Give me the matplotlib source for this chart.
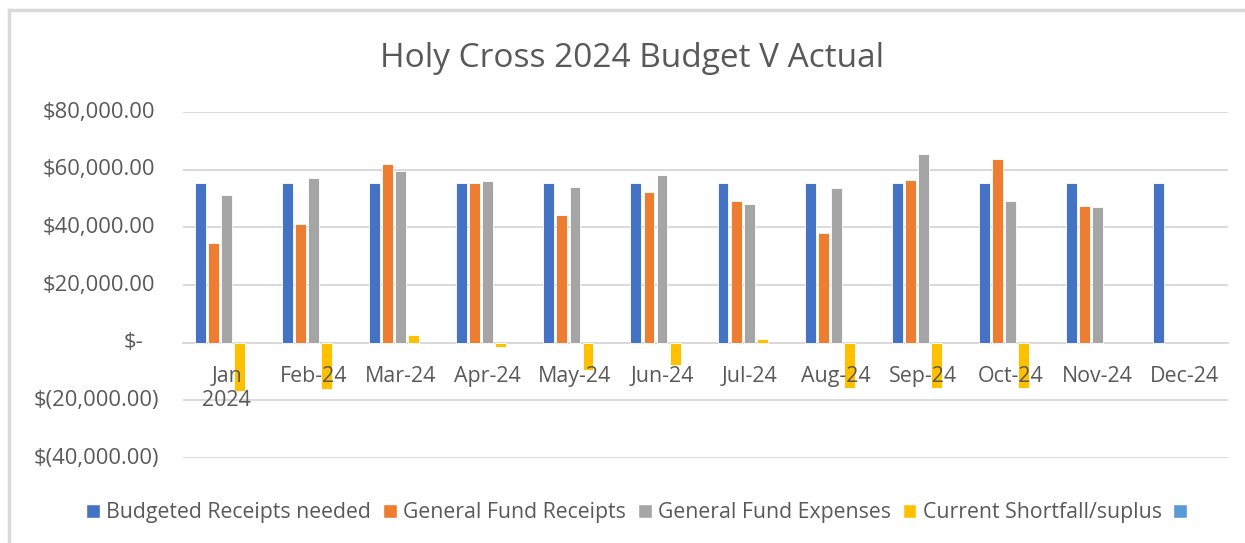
import numpy as np
import matplotlib.pyplot as plt
from matplotlib.patches import Patch
from matplotlib.lines import Line2D

# data
months = ['Jan\n2024', 'Feb-24', 'Mar-24', 'Apr-24', 'May-24', 'Jun-24',
          'Jul-24', 'Aug-24', 'Sep-24', 'Oct-24', 'Nov-24', 'Dec-24']
budgeted = [55417] * 12
receipts = [34600, 41100, 62100, 55400, 44400, 52100, 49300, 37900, 56300, 63600, 47500, np.nan]
expenses = [51300, 57100, 59400, 56200, 54000, 58200, 48100, 53500, 65400, 49300, 47200, np.nan]
shortfall = [-16600, -16200, 2600, -1400, -9600, -7900, 1200, -15700, -15700, -15700, np.nan, np.nan]
blank = [np.nan] * 12

series_names = ['Budgeted Receipts needed', 'General Fund Receipts', 'General Fund Expenses',
                'Current Shortfall/suplus', '']
colors = ['#4472C4', '#ED7D31', '#A5A5A5', '#FFC000', '#5B9BD5']
all_series = [budgeted, receipts, expenses, shortfall, blank]

plt.rcParams['font.family'] = ['Open Sans', 'DejaVu Sans']
txt = '#595959'

fig = plt.figure(figsize=(12.45, 5.43), dpi=100)
ax = fig.add_axes([0.147, 0.1565, 0.8395, 0.6372])

x = np.arange(len(months))
pitch = 0.15
width = 0.125
for i, (vals, c) in enumerate(zip(all_series, colors)):
    ax.bar(x + (i - 2) * pitch, vals, width, color=c, edgecolor='white', linewidth=0.6, zorder=3)

ax.set_xlim(-0.5, 11.5)
ax.set_ylim(-40000, 80000)
yt = np.arange(-40000, 80001, 20000)
ax.set_yticks(yt)
ax.yaxis.grid(True, color='#D9D9D9', linewidth=1.4, zorder=0)
ax.tick_params(axis='y', length=0, labelleft=False)

# accounting-style y labels
trans = ax.get_yaxis_transform()
for v in yt:
    if v > 0:
        s, xo = '$%s' % format(v, ',.2f'), -0.0268
    elif v == 0:
        s, xo = '$-', -0.0383
    else:
        s, xo = '$(%s)' % format(-v, ',.2f'), -0.023
    ax.text(xo, v, s, transform=trans, ha='right', va='center', fontsize=15.8, color=txt)

ax.spines['bottom'].set_position(('data', 0))
ax.spines['bottom'].set_color('#D9D9D9')
ax.spines['bottom'].set_linewidth(1.4)
for s in ['top', 'right', 'left']:
    ax.spines[s].set_visible(False)
ax.set_xticks(x)
ax.set_xticklabels(months, fontsize=15.4, color=txt, linespacing=1.2)
ax.tick_params(axis='x', length=0, pad=17)
ax.xaxis.set_zorder(4)

fig.text(0.508, 0.893, 'Holy Cross 2024 Budget V Actual', ha='center', va='center',
         fontsize=24, color=txt)

handles = [Patch(facecolor=c, edgecolor='white') for c in colors]
fig.legend(handles, series_names, loc='center', bbox_to_anchor=(0.514, 0.056), ncol=5,
           frameon=False, fontsize=15.3, labelcolor=txt, handlelength=0.65, handleheight=0.65,
           handletextpad=0.3, columnspacing=0.55)

# chart area border (top and left only visible)
fig.add_artist(Line2D([9 / 1245, 1], [1 - 10 / 543] * 2, color='#D9D9D9', linewidth=2.5))
fig.add_artist(Line2D([9 / 1245] * 2, [0, 1 - 10 / 543], color='#D9D9D9', linewidth=2.5))

fig.savefig('out.png', dpi=100)
